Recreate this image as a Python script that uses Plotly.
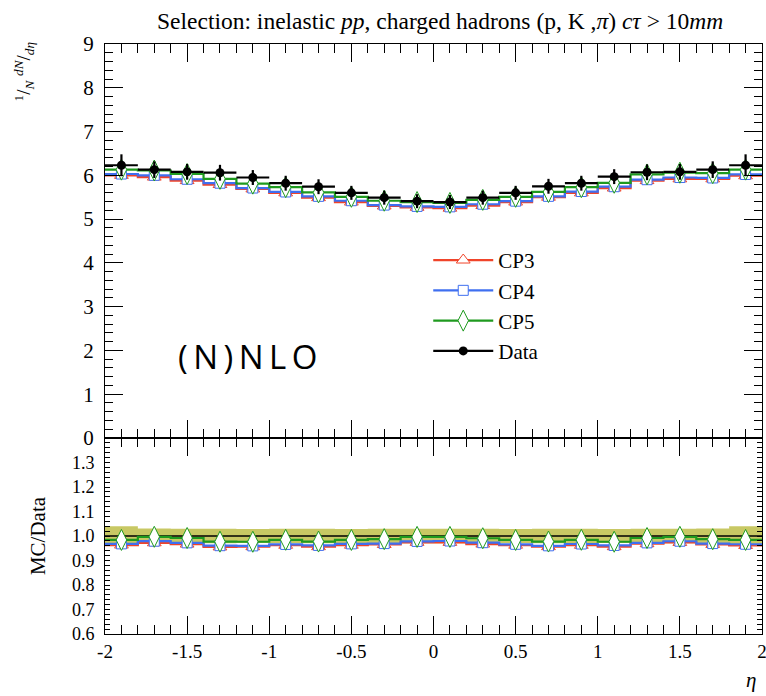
import plotly.graph_objects as go

# ---------------- data ----------------
bin_edges = [-2.0, -1.8, -1.6, -1.4, -1.2, -1.0, -0.8, -0.6, -0.4, -0.2, 0.0,
             0.2, 0.4, 0.6, 0.8, 1.0, 1.2, 1.4, 1.6, 1.8, 2.0]
bin_centers = [-1.9, -1.7, -1.5, -1.3, -1.1, -0.9, -0.7, -0.5, -0.3, -0.1,
               0.1, 0.3, 0.5, 0.7, 0.9, 1.1, 1.3, 1.5, 1.7, 1.9]

data_vals = [6.23, 6.13, 6.08, 6.06, 5.95, 5.82, 5.74, 5.60, 5.49, 5.41,
             5.39, 5.49, 5.60, 5.75, 5.82, 5.97, 6.07, 6.08, 6.13, 6.23]
data_err = [0.25, 0.19, 0.18, 0.18, 0.17, 0.17, 0.17, 0.16, 0.16, 0.16,
            0.16, 0.16, 0.16, 0.17, 0.17, 0.17, 0.18, 0.18, 0.19, 0.25]

cp3_vals = [6.00, 5.96, 5.88, 5.79, 5.69, 5.60, 5.49, 5.39, 5.30, 5.27,
            5.25, 5.31, 5.39, 5.50, 5.60, 5.71, 5.88, 5.92, 5.92, 5.99]
cp4_vals = [6.03, 6.00, 5.91, 5.82, 5.71, 5.62, 5.52, 5.42, 5.32, 5.29,
            5.28, 5.34, 5.41, 5.52, 5.63, 5.74, 5.90, 5.95, 5.94, 6.02]
cp5_vals = [6.13, 6.11, 6.03, 5.92, 5.81, 5.73, 5.61, 5.51, 5.42, 5.39,
            5.37, 5.44, 5.51, 5.62, 5.73, 5.83, 6.02, 6.06, 6.05, 6.13]

series_names = ["CP3", "CP4", "CP5"]
series_colors = ["#f0442a", "#3f6ff0", "#1f9a1f"]
series_symbols = ["triangle-up", "square", "diamond-tall"]
series_sizes = [12, 10, 15]

x_tick_vals = [-2, -1.5, -1, -0.5, 0, 0.5, 1, 1.5, 2]
x_tick_text = ["-2", "-1.5", "-1", "-0.5", "0", "0.5", "1", "1.5", "2"]
main_y_ticks = [0, 1, 2, 3, 4, 5, 6, 7, 8, 9]
ratio_y_ticks = [0.6, 0.7, 0.8, 0.9, 1.0, 1.1, 1.2, 1.3]
ratio_y_text = ["0.6", "0.7", "0.8", "0.9", "1.0", "1.1", "1.2", "1.3"]
ratio_major_ticks = [0.7, 0.9, 1.1, 1.3]

SERIF = "Liberation Serif, Times New Roman, serif"
X_RANGE = [-2, 2]


def step(vals):
    return list(vals) + [vals[-1]]


fig = go.Figure()

# ---------- ratio band (data uncertainty) ----------
rel_up = [1 + e / v for e, v in zip(data_err, data_vals)]
rel_dn = [1 - e / v for e, v in zip(data_err, data_vals)]
fig.add_trace(go.Scatter(x=bin_edges, y=step(rel_dn), mode="lines", line=dict(width=0, shape="hv"),
                         showlegend=False, hoverinfo="skip", xaxis="x2", yaxis="y2"))
fig.add_trace(go.Scatter(x=bin_edges, y=step(rel_up), mode="lines", line=dict(width=0, shape="hv"),
                         fill="tonexty", fillcolor="rgba(179,179,40,0.72)",
                         showlegend=False, hoverinfo="skip", xaxis="x2", yaxis="y2"))
# data ratio line at 1
fig.add_trace(go.Scatter(x=bin_edges, y=step([v / v for v in data_vals]), mode="lines",
                         line=dict(color="black", width=1.5, shape="hv"),
                         showlegend=False, hoverinfo="skip", xaxis="x2", yaxis="y2"))

# ---------- MC series ----------
for name, vals, col, sym, sz in zip(series_names, [cp3_vals, cp4_vals, cp5_vals],
                                    series_colors, series_symbols, series_sizes):
    ratio = [m / d for m, d in zip(vals, data_vals)]
    fig.add_trace(go.Scatter(x=bin_edges, y=step(vals), mode="lines",
                             line=dict(color=col, width=2.2, shape="hv"),
                             showlegend=False, hoverinfo="skip", xaxis="x", yaxis="y"))
    fig.add_trace(go.Scatter(x=bin_centers, y=vals, mode="markers",
                             marker=dict(symbol=sym, size=sz, color="white",
                                         line=dict(color=col, width=1)),
                             showlegend=False, xaxis="x", yaxis="y"))
    fig.add_trace(go.Scatter(x=bin_edges, y=step(ratio), mode="lines",
                             line=dict(color=col, width=2.2, shape="hv"),
                             showlegend=False, hoverinfo="skip", xaxis="x2", yaxis="y2"))
    fig.add_trace(go.Scatter(x=bin_centers, y=ratio, mode="markers",
                             marker=dict(symbol=sym, size=sz, color="white",
                                         line=dict(color=col, width=1)),
                             showlegend=False, xaxis="x2", yaxis="y2"))
    fig.add_trace(go.Scatter(x=[None], y=[None], mode="lines+markers", name=name,
                             legendgroup=name,
                             line=dict(color=col, width=2.2),
                             marker=dict(symbol=sym, size=sz, color="white",
                                         line=dict(color=col, width=1)),
                             xaxis="x", yaxis="y"))

# ---------- data ----------
fig.add_trace(go.Scatter(x=bin_centers, y=data_vals, mode="markers", name="Data",
                         marker=dict(symbol="circle", size=9, color="black"),
                         error_x=dict(type="constant", value=0.1, color="black", thickness=2.2, width=0),
                         error_y=dict(type="data", array=data_err, color="black", thickness=2.2, width=0),
                         showlegend=False, xaxis="x", yaxis="y"))
fig.add_trace(go.Scatter(x=[None], y=[None], mode="lines+markers", name="Data", legendgroup="Data",
                         line=dict(color="black", width=2.2),
                         marker=dict(symbol="circle", size=9, color="black"),
                         xaxis="x", yaxis="y"))

# ---------- layout ----------
axis_common = dict(showgrid=False, zeroline=False, showline=True, linecolor="black",
                   linewidth=1, mirror="ticks", ticks="inside", tickcolor="black")

fig.update_layout(
    template="none",
    width=766, height=696,
    margin=dict(l=105, r=4, t=44, b=62),
    plot_bgcolor="white", paper_bgcolor="white",
    font=dict(family=SERIF, color="black", size=18),
    xaxis=dict(domain=[0, 1], range=X_RANGE, anchor="y", tickvals=x_tick_vals,
               showticklabels=False, ticklen=18, tickwidth=1,
               minor=dict(dtick=0.1, ticklen=9, ticks="inside", tickcolor="black"),
               **axis_common),
    yaxis=dict(domain=[0.3322, 1], range=[0, 9], anchor="x", tickvals=main_y_ticks,
               ticklen=18, tickwidth=1, tickfont=dict(size=21, family=SERIF, color="black"),
               ticklabelstandoff=6,
               minor=dict(dtick=0.2, ticklen=8, ticks="inside", tickcolor="black"),
               **axis_common),
    xaxis2=dict(domain=[0, 1], range=X_RANGE, anchor="y2", tickvals=x_tick_vals,
                ticktext=x_tick_text, ticklen=18, tickwidth=1, ticklabeloverflow="allow",
                tickfont=dict(size=19, family=SERIF, color="black"),
                minor=dict(dtick=0.1, ticklen=9, ticks="inside", tickcolor="black"),
                **axis_common),
    yaxis2=dict(domain=[0, 0.3322], range=[0.6, 1.4], anchor="x2", tickvals=ratio_y_ticks,
                ticktext=ratio_y_text, ticklen=5, tickwidth=1,
                tickfont=dict(size=18, family=SERIF, color="black"), ticklabelstandoff=6,
                minor=dict(dtick=0.02, ticklen=5, ticks="inside", tickcolor="black"),
                **axis_common),
    yaxis3=dict(overlaying="y2", range=[0.6, 1.4], anchor="x2", tickvals=ratio_major_ticks,
                showticklabels=False, ticklen=18, ticks="inside", tickcolor="black",
                showgrid=False, zeroline=False, showline=False, mirror="ticks", side="left"),
    legend=dict(x=0.492, y=0.668, xanchor="left", yanchor="top",
                bgcolor="rgba(0,0,0,0)", font=dict(size=21, family=SERIF, color="black"),
                tracegroupgap=0, itemwidth=60),
    showlegend=True,
)

# title
fig.add_annotation(text="Selection: inelastic <i>pp</i>, charged hadrons (p, K ,<i>π</i>) <i>cτ</i> &gt; 10<i>mm</i>",
                   xref="paper", yref="paper", x=0.51, y=1.0, xanchor="center", yanchor="bottom",
                   yshift=8, showarrow=False, font=dict(size=23.5, family=SERIF))
# main y label
fig.add_annotation(text="<sup>1</sup>/<sub><i>N</i></sub> <sup><i>dN</i></sup>/<sub><i>dη</i></sub>",
                   xref="paper", yref="paper", x=0, y=1.0, xanchor="right", yanchor="top",
                   xshift=-66, yshift=4, textangle=-90, showarrow=False,
                   font=dict(size=19, family=SERIF))
# ratio y label
fig.add_annotation(text="MC/Data", xref="paper", yref="paper", x=0, y=0.166,
                   xanchor="right", yanchor="middle", xshift=-53, textangle=-90,
                   showarrow=False, font=dict(size=21, family=SERIF))
# x label
fig.add_annotation(text="<i>η</i>", xref="paper", yref="paper", x=1.0, y=0,
                   xanchor="right", yanchor="top", xshift=-4, yshift=-32,
                   showarrow=False, font=dict(size=21, family=SERIF))
# (N)NLO
fig.add_annotation(text="(\u2009N\u2009)\u2009N\u2009L\u2009O", xref="x", yref="y", x=-1.57, y=1.87,
                   xanchor="left", yanchor="middle", showarrow=False,
                   font=dict(size=33, family="Open Sans"))

fig.write_html("out.html", config={"displayModeBar": False},
               post_script="document.body.style.margin='0';document.body.style.overflow='hidden';")
